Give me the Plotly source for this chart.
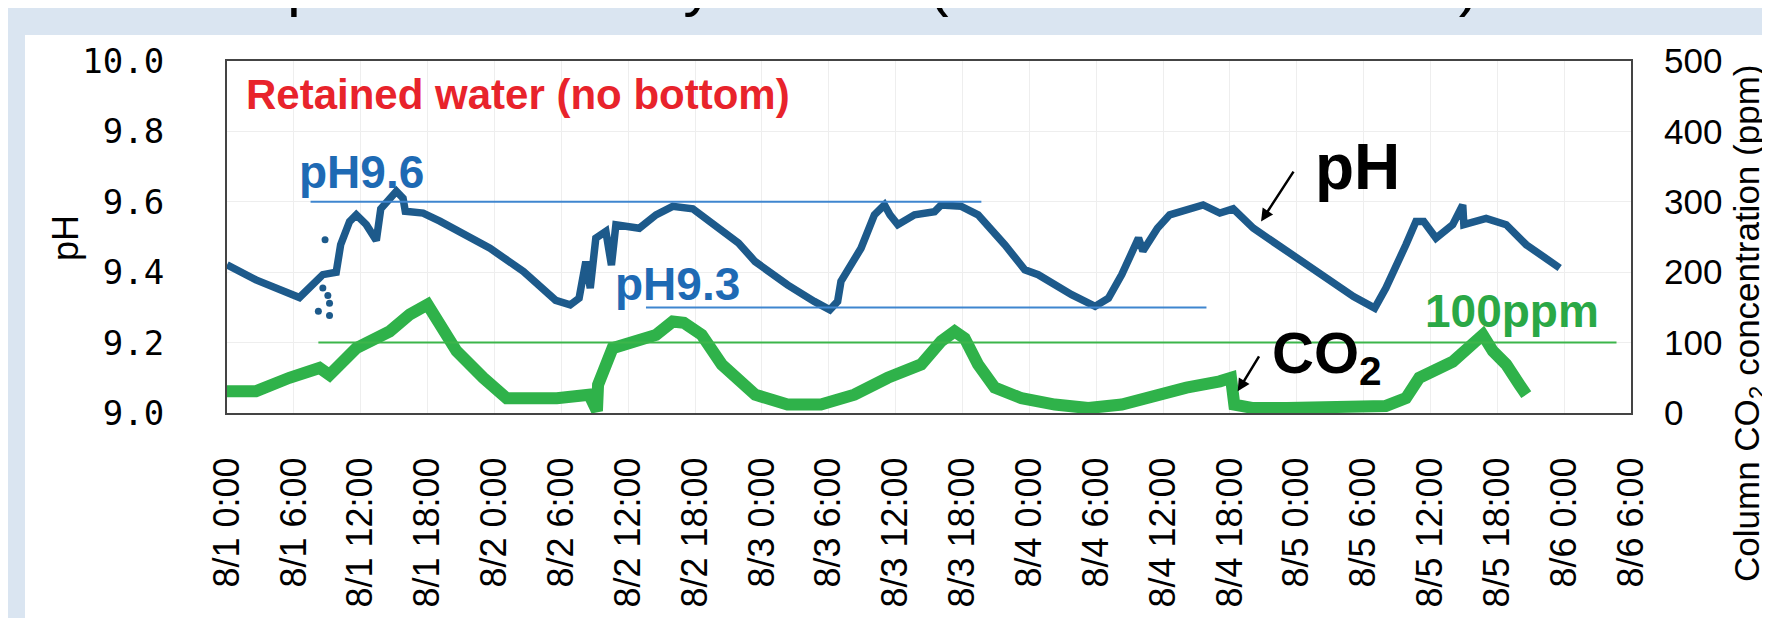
import plotly.graph_objects as go

# ---------------- data (hours from 8/1 0:00) ----------------
ph_hours = [0, 2.6, 6.5, 7.1, 8.6, 9.8, 10.2, 11.0, 11.6, 12.5, 13.4, 13.8, 14.6, 15.2, 15.8, 16.0,
            17.6, 19.1, 23.6, 26.6, 29.5, 30.8, 31.6, 32.2, 32.6, 33.1, 34.0, 34.5, 34.9, 37.0, 38.5,
            40.0, 41.8, 42.9, 44.4, 45.9, 47.4, 50.3, 52.7, 54.1, 54.8, 55.1, 56.9, 58.1, 59.0, 59.5,
            60.2, 61.7, 63.5, 64.1, 65.9, 67.4, 69.8, 71.6, 72.8, 75.8, 77.9, 79.1, 80.3, 81.8, 82.2,
            83.0, 83.5, 84.6, 87.6, 89.1, 90.3, 92.1, 95.1, 98.1, 101.1, 103.0, 104.0, 105.8, 106.7,
            107.4, 108.5, 110.0, 110.9, 111.0, 113.0, 114.8, 116.6, 119.6]
ph_values = [9.421, 9.378, 9.328, 9.345, 9.393, 9.40, 9.478, 9.544, 9.563, 9.535, 9.49, 9.58, 9.61, 9.63,
             9.61, 9.573, 9.568, 9.545, 9.468, 9.402, 9.32, 9.307, 9.326, 9.43, 9.355, 9.497, 9.516,
             9.42, 9.535, 9.525, 9.563, 9.587, 9.58, 9.553, 9.516, 9.483, 9.43, 9.364, 9.317, 9.293,
             9.317, 9.374, 9.468, 9.563, 9.591, 9.563, 9.535, 9.563, 9.572, 9.591, 9.587, 9.563, 9.478,
             9.407, 9.393, 9.336, 9.303, 9.326, 9.393, 9.497, 9.46, 9.50, 9.525, 9.563, 9.591, 9.568,
             9.58, 9.525, 9.459, 9.393, 9.331, 9.298, 9.355, 9.478, 9.544, 9.544, 9.497, 9.535, 9.591,
             9.535, 9.553, 9.535, 9.478, 9.412]

ph_outlier_hours = [8.8, 8.6, 9.05, 9.2, 8.2, 9.2]
ph_outlier_values = [9.492, 9.355, 9.334, 9.312, 9.289, 9.277]

co2_hours = [0, 2.6, 5.6, 8.3, 9.2, 11.6, 14.6, 16.4, 18.0, 19.1, 20.6, 23.0, 25.1, 29.6, 32.5, 33.2,
             33.3, 34.6, 35.5, 38.5, 40.0, 41.0, 42.6, 44.4, 47.4, 50.3, 53.3, 56.3, 59.3, 62.3, 64.1,
             65.3, 66.2, 67.4, 68.9, 71.3, 74.3, 77.3, 80.3, 83.3, 86.1, 89.1, 90.1, 90.4, 92.1, 95.1,
             98.1, 104.0, 105.8, 107.0, 110.0, 112.1, 112.7, 113.6, 114.8, 116.0, 116.6]
co2_values = [31, 31, 50, 64, 54, 92, 116, 140, 154, 125, 88, 50, 21, 21, 26, 3,
              40, 92, 97, 111, 130, 128, 111, 69, 26, 12, 12, 26, 50, 69, 102,
              116, 106, 69, 36, 21, 12, 7, 12, 26, 36, 45, 50, 12, 7, 7,
              9, 10, 21, 50, 73, 106, 111, 88, 69, 40, 26]

tick_hours = list(range(0, 127, 6))
tick_labels = ["8/1 0:00", "8/1 6:00", "8/1 12:00", "8/1 18:00",
               "8/2 0:00", "8/2 6:00", "8/2 12:00", "8/2 18:00",
               "8/3 0:00", "8/3 6:00", "8/3 12:00", "8/3 18:00",
               "8/4 0:00", "8/4 6:00", "8/4 12:00", "8/4 18:00",
               "8/5 0:00", "8/5 6:00", "8/5 12:00", "8/5 18:00",
               "8/6 0:00", "8/6 6:00"]
ph_ticks = [9.0, 9.2, 9.4, 9.6, 9.8, 10.0]
co2_ticks = [0, 100, 200, 300, 400, 500]

# reference lines: (level, start hour, end hour)
ref_ph96 = [9.6, 7.5, 67.7]
ref_ph93 = [9.3, 37.6, 87.9]
ref_co2_100 = [100, 8.2, 124.7]

# ---------------- figure ----------------
W, H = 1770, 618
L, R, T, B = 219, 147, 53, 213
PW, PH = W - L - R, H - T - B

def px(x):
    return (x - L) / PW

def py(y):
    return (H - B - y) / PH

SANS = "Liberation Sans, Arial, sans-serif"
MONO = "DejaVu Sans Mono, monospace"
BLUE = "#1d5a8b"
GREEN = "#2fb24a"
LBLUE = "#3f86cf"

fig = go.Figure()
fig.add_trace(go.Scatter(x=co2_hours, y=co2_values, yaxis="y2", mode="lines",
                         line=dict(color=GREEN, width=12), showlegend=False))
fig.add_trace(go.Scatter(x=ph_hours, y=ph_values, mode="lines",
                         line=dict(color=BLUE, width=7.5), showlegend=False))
fig.add_trace(go.Scatter(x=ph_outlier_hours, y=ph_outlier_values, mode="markers",
                         marker=dict(color=BLUE, size=7), showlegend=False))

shapes = [
    dict(type="rect", xref="paper", yref="paper", x0=px(17), x1=px(1772), y0=py(27), y1=py(620),
         fillcolor="white", line=dict(width=0), layer="below"),
    dict(type="line", xref="x", yref="y", x0=ref_ph96[1], x1=ref_ph96[2], y0=ref_ph96[0], y1=ref_ph96[0],
         line=dict(color=LBLUE, width=2)),
    dict(type="line", xref="x", yref="y", x0=ref_ph93[1], x1=ref_ph93[2], y0=ref_ph93[0], y1=ref_ph93[0],
         line=dict(color=LBLUE, width=2)),
    dict(type="line", xref="x", yref="y2", x0=ref_co2_100[1], x1=ref_co2_100[2], y0=ref_co2_100[0],
         y1=ref_co2_100[0], line=dict(color="#3cb54b", width=2)),
]

annotations = [
    # slide title (cut off at top of the page, only descenders show)
    dict(xref="paper", yref="paper", x=px(277), y=py(11), xanchor="left", yanchor="bottom",
         text="pH and CO2 dynamics (retained water test)", showarrow=False,
         font=dict(family=SANS, size=62, color="black")),
    # axis titles
    dict(xref="paper", yref="paper", x=px(57), y=py(230), xanchor="center", yanchor="middle",
         text="pH", textangle=-90, showarrow=False, font=dict(family=SANS, size=36, color="black")),
    dict(xref="paper", yref="paper", x=px(1741), y=py(316), xanchor="center", yanchor="middle",
         text="Column CO<sub>2</sub> concentration (ppm)", textangle=-90, showarrow=False,
         font=dict(family=SANS, size=35, color="black")),
    # labels
    dict(xref="x", yref="y", x=1.5, y=9.976, xanchor="left", yanchor="top",
         text="<b>Retained water (no bottom)</b>", showarrow=False,
         font=dict(family=SANS, size=42, color="#e8232b")),
    dict(xref="x", yref="y", x=6.3, y=9.764, xanchor="left", yanchor="top",
         text="<b>pH9.6</b>", showarrow=False, font=dict(family=SANS, size=46, color="#1e6ab4")),
    dict(xref="x", yref="y", x=34.6, y=9.447, xanchor="left", yanchor="top",
         text="<b>pH9.3</b>", showarrow=False, font=dict(family=SANS, size=46, color="#1e6ab4")),
    dict(xref="x", yref="y", x=97.5, y=9.806, xanchor="left", yanchor="top",
         text="<b>pH</b>", showarrow=False, font=dict(family=SANS, size=64, color="black")),
    dict(xref="x", yref="y2", x=93.6, y=135.5, xanchor="left", yanchor="top",
         text="<b>CO<sub>2</sub></b>", showarrow=False, font=dict(family=SANS, size=58, color="black")),
    dict(xref="x", yref="y2", x=107.3, y=184.5, xanchor="left", yanchor="top",
         text="<b>100ppm</b>", showarrow=False, font=dict(family=SANS, size=46, color="#2aa846")),
    # arrows
    dict(xref="x", yref="y", x=92.8, y=9.544, axref="x", ayref="y", ax=95.8, ay=9.69,
         text="", showarrow=True, arrowhead=2, arrowsize=1, arrowwidth=2.5, arrowcolor="black"),
    dict(xref="x", yref="y2", x=90.7, y=30.8, axref="x", ayref="y2", ax=92.7, ay=82.7,
         text="", showarrow=True, arrowhead=2, arrowsize=1, arrowwidth=2.5, arrowcolor="black"),
]

fig.update_layout(
    width=W, height=H,
    margin=dict(l=L, r=R, t=T, b=B, pad=0),
    paper_bgcolor="#dae5f1",
    plot_bgcolor="white",
    shapes=shapes,
    annotations=annotations,
    showlegend=False,
    xaxis=dict(range=[0, 126], tickmode="array", tickvals=tick_hours, ticktext=tick_labels,
               tickangle=-90, tickfont=dict(family=SANS, size=36, color="black"),
               ticks="", ticklabelstandoff=28,
               showline=True, linecolor="#444444", linewidth=2, mirror=True,
               showgrid=True, gridcolor="#eeeeee", gridwidth=1, zeroline=False),
    yaxis=dict(range=[9.0, 10.0], tickmode="array", tickvals=ph_ticks,
               ticktext=[f"{v:.1f}" for v in ph_ticks],
               tickfont=dict(family=MONO, size=34, color="black"), ticks="", ticklabelstandoff=54,
               showline=True, linecolor="#444444", linewidth=2, mirror=True,
               showgrid=True, gridcolor="#eeeeee", gridwidth=1, zeroline=False),
    yaxis2=dict(range=[0, 500], overlaying="y", side="right", tickmode="array", tickvals=co2_ticks,
                ticktext=[str(v) for v in co2_ticks],
                tickfont=dict(family=SANS, size=35, color="black"), ticks="", ticklabelstandoff=32,
                showgrid=False, zeroline=False, showline=False),
)

fig.write_html("out.html")
